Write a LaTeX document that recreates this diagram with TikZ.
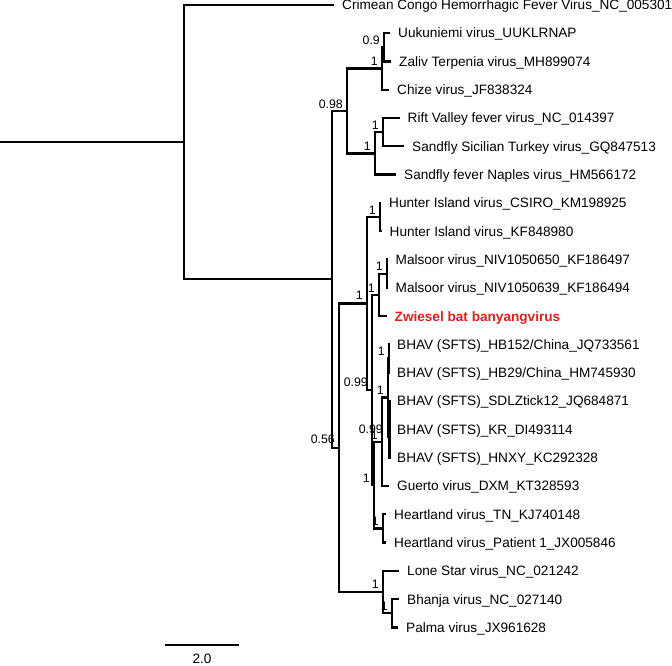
\documentclass[tikz,border=0pt]{standalone}
\usepackage{fontspec}
\setmainfont{Liberation Sans}
\definecolor{zred}{RGB}{228,30,30}
\begin{document}
\begin{tikzpicture}[x=1pt,y=-1pt,
  br/.style={line width=2.3pt, line join=miter, line cap=butt},
  leaf/.style={anchor=base west, inner sep=0pt, font=\fontsize{13.6}{16}\selectfont},
  sup/.style={anchor=south east, inner sep=0pt, font=\fontsize{12.3}{14}\selectfont},
  scalebar/.style={line width=1.3pt}]
\useasboundingbox (0,0) rectangle (672,666);
% leaf ends
\coordinate (l0) at (334,4.8);
\coordinate (l1) at (390,33.1);
\coordinate (l2) at (391,61.4);
\coordinate (l3) at (389,89.7);
\coordinate (l4) at (399.5,118.0);
\coordinate (l5) at (404,146.3);
\coordinate (l6) at (396,174.6);
\coordinate (l7) at (381,202.9);
\coordinate (l8) at (382,231.2);
\coordinate (l9) at (388,259.5);
\coordinate (l10) at (388,287.8);
\coordinate (l11) at (387,316.1);
\coordinate (l12) at (390,344.4);
\coordinate (l13) at (390,372.7);
\coordinate (l14) at (390.5,401.0);
\coordinate (l15) at (390.5,429.3);
\coordinate (l16) at (390.5,457.6);
\coordinate (l17) at (389,485.9);
\coordinate (l18) at (385.5,514.2);
\coordinate (l19) at (385.5,542.5);
\coordinate (l20) at (399,570.8);
\coordinate (l21) at (399,599.1);
\coordinate (l22) at (398,627.4);
% internal nodes
\coordinate (r0) at (0,142.07);
\coordinate (root) at (184,142.07);
\coordinate (n1) at (332,279.34);
\coordinate (n098) at (347,110.93);
\coordinate (uuku) at (382,68.48);
\coordinate (u09) at (384,47.25);
\coordinate (riftc) at (375,153.38);
\coordinate (rs) at (383,132.15);
\coordinate (n056) at (339,447.76);
\coordinate (band) at (367,303.5);
\coordinate (hunter) at (380,217.05);
\coordinate (n099) at (372,389.95);
\coordinate (mz) at (379,294.88);
\coordinate (mal) at (387,273.65);
\coordinate (a) at (374,485.02);
\coordinate (b) at (382,441.68);
\coordinate (c) at (388,397.46);
\coordinate (d) at (389,358.55);
\coordinate (e) at (389.5,436.38);
\coordinate (f) at (390,415.15);
\coordinate (heart) at (383,528.35);
\coordinate (ls) at (383,592.03);
\coordinate (bp) at (392,613.25);
% branches
\draw[br] (r0) -- (root);
\draw[br] (l0) -| (root) |- (n1);
\draw[br] (n098) -| (n1) |- (n056);
\draw[br] (uuku) -| (n098) |- (riftc);
\draw[br] (u09) -| (uuku) |- (l3);
\draw[br] (l1) -| (u09) |- (l2);
\draw[br] (rs) -| (riftc) |- (l6);
\draw[br] (l4) -| (rs) |- (l5);
\draw[br] (band) -| (n056) |- (ls);
\draw[br] (hunter) -| (band) |- (n099);
\draw[br] (l7) -| (hunter) |- (l8);
\draw[br] (mz) -| (n099) |- (a);
\draw[br] (mal) -| (mz) |- (l11);
\draw[br] (l9) -| (mal) |- (l10);
\draw[br] (b) -| (a) |- (heart);
\draw[br] (c) -| (b) |- (l17);
\draw[br] (d) -| (c) |- (e);
\draw[br] (l12) -| (d) |- (l13);
\draw[br] (f) -| (e) |- (l16);
\draw[br] (l14) -| (f) |- (l15);
\draw[br] (l18) -| (heart) |- (l19);
\draw[br] (l20) -| (ls) |- (bp);
\draw[br] (l21) -| (bp) |- (l22);
% taxa
\node[leaf] (t0) at (342,9.7) {Crimean Congo Hemorrhagic Fever Virus\_NC\_005301};
\node[leaf] (t1) at (398,38.0) {Uukuniemi virus\_UUKLRNAP};
\node[leaf] (t2) at (399,66.3) {Zaliv Terpenia virus\_MH899074};
\node[leaf] (t3) at (397,94.6) {Chize virus\_JF838324};
\node[leaf] (t4) at (407.5,122.9) {Rift Valley fever virus\_NC\_014397};
\node[leaf] (t5) at (412,151.2) {Sandfly Sicilian Turkey virus\_GQ847513};
\node[leaf] (t6) at (404,179.5) {Sandfly fever Naples virus\_HM566172};
\node[leaf] (t7) at (389,207.8) {Hunter Island virus\_CSIRO\_KM198925};
\node[leaf] (t8) at (389.5,236.1) {Hunter Island virus\_KF848980};
\node[leaf] (t9) at (395.5,264.4) {Malsoor virus\_NIV1050650\_KF186497};
\node[leaf] (t10) at (395.5,292.7) {Malsoor virus\_NIV1050639\_KF186494};
\node[leaf, text=zred, font=\fontsize{13.6}{16}\selectfont\bfseries] (t11) at (394.5,321.0) {Zwiesel bat banyangvirus};
\node[leaf] (t12) at (397,349.3) {BHAV (SFTS)\_HB152/China\_JQ733561};
\node[leaf] (t13) at (397,377.6) {BHAV (SFTS)\_HB29/China\_HM745930};
\node[leaf] (t14) at (397,405.9) {BHAV (SFTS)\_SDLZtick12\_JQ684871};
\node[leaf] (t15) at (397,434.2) {BHAV (SFTS)\_KR\_DI493114};
\node[leaf] (t16) at (397,462.5) {BHAV (SFTS)\_HNXY\_KC292328};
\node[leaf] (t17) at (397,490.8) {Guerto virus\_DXM\_KT328593};
\node[leaf] (t18) at (394,519.1) {Heartland virus\_TN\_KJ740148};
\node[leaf] (t19) at (394,547.4) {Heartland virus\_Patient 1\_JX005846};
\node[leaf] (t20) at (407,575.7) {Lone Star virus\_NC\_021242};
\node[leaf] (t21) at (407,604.0) {Bhanja virus\_NC\_027140};
\node[leaf] (t22) at (406,632.3) {Palma virus\_JX961628};
% support values
\node[sup] (s1) at (343,108.4) {0.98};
\node[sup] (s2) at (378,66) {1};
\node[sup] (s3) at (380,44.75) {0.9};
\node[sup] (s4) at (379,129.65) {1};
\node[sup] (s5) at (371,150.9) {1};
\node[sup] (s6) at (335,444) {0.56};
\node[sup] (s7) at (363,300) {1};
\node[sup] (s8) at (376,214.55) {1};
\node[sup] (s9) at (368,386.5) {0.99};
\node[sup] (s10) at (375,292.4) {1};
\node[sup] (s11) at (383,271.15) {1};
\node[sup] (s12) at (385,356) {1};
\node[sup] (s13) at (384,395) {1};
\node[sup] (s14) at (383,433.9) {0.99};
\node[sup] (s15) at (378,439.2) {1};
\node[sup] (s16) at (370,482.5) {1};
\node[sup] (s17) at (379,525.85) {1};
\node[sup] (s18) at (379,588.5) {1};
\node[sup] (s19) at (388,610.75) {1};
% scale bar
\coordinate (sb1) at (165,645);
\coordinate (sb2) at (239,645);
\draw[scalebar] (sb1) -- (sb2);
\node[anchor=base, inner sep=0pt, font=\fontsize{13.6}{16}\selectfont] (sbl) at (202,663.5) {2.0};
\end{tikzpicture}
\end{document}
